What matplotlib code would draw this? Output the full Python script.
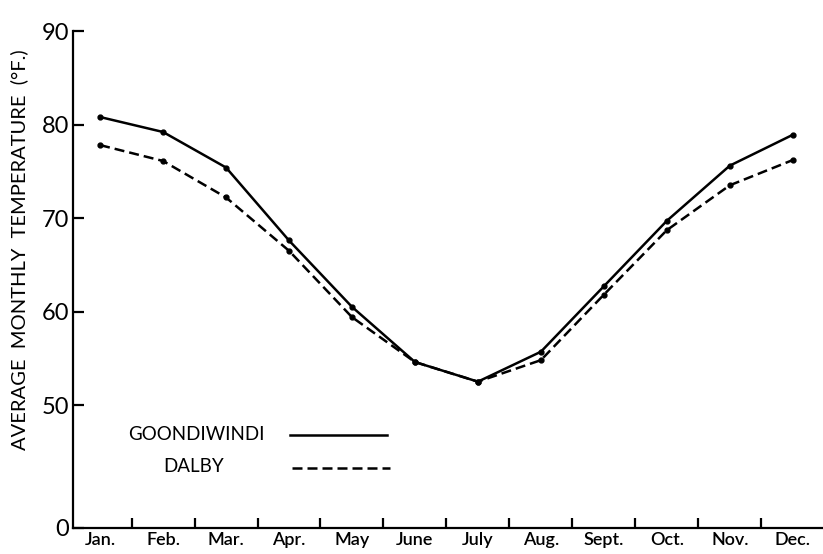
import numpy as np
import matplotlib
matplotlib.use("Agg")
from matplotlib import pyplot as plt
from matplotlib.lines import Line2D

months = ["Jan.", "Feb.", "Mar.", "Apr.", "May", "June",
          "July", "Aug.", "Sept.", "Oct.", "Nov.", "Dec."]
goondiwindi = [80.8, 79.2, 75.4, 67.6, 60.5, 54.6, 52.5, 55.7, 62.7, 69.7, 75.6, 78.9]
dalby = [77.8, 76.1, 72.2, 66.5, 59.4, 54.6, 52.5, 54.8, 61.8, 68.7, 73.5, 76.2]

# broken scale: the "0" sits at the axis, well below 50
y_zero_pos = 36.85
y_ticks = [y_zero_pos, 50, 60, 70, 80, 90]
y_tick_labels = ["0", "50", "60", "70", "80", "90"]

plt.rcParams['font.family'] = ['Lato', 'DejaVu Sans']

fig = plt.figure(figsize=(8.23, 5.54), dpi=100)
ax = fig.add_axes([73 / 823, 1 - 528 / 554, 1 - 73 / 823, (528 - 31) / 554])

x = np.arange(len(months))
ax.plot(x, goondiwindi, color='black', lw=1.8, marker='o', ms=3.5)
ax.plot(x, dalby, color='black', lw=1.8, ls=(0, (4, 2)), marker='o', ms=3.5)

ax.set_xlim(-0.43, 11.48)
ax.set_ylim(y_zero_pos, 90)

for s in ['top', 'right']:
    ax.spines[s].set_visible(False)
for s in ['left', 'bottom']:
    ax.spines[s].set_linewidth(1.6)

ax.set_yticks(y_ticks)
ax.set_yticklabels(y_tick_labels, fontsize=17)
ax.tick_params(axis='y', direction='in', length=8, width=1.6, pad=3)

# month ticks sit between months, labels centred on months
ax.set_xticks(x[:-1] + 0.5)
ax.set_xticklabels([])
ax.set_xticks(x, minor=True)
ax.set_xticklabels(months, minor=True, fontsize=13, fontweight='semibold')
ax.tick_params(axis='x', which='major', direction='in', length=7, width=1.6)
ax.tick_params(axis='x', which='minor', length=0, pad=3)

fig.text(19 / 823, 1 - 250 / 554, "AVERAGE  MONTHLY  TEMPERATURE  (°F.)",
         rotation=90, ha='center', va='center', fontsize=14.5)

# hand-drawn legend
fig.text(196 / 823, 1 - 434 / 554, "GOONDIWINDI", ha='center', va='center', fontsize=13.5)
fig.text(194 / 823, 1 - 467 / 554, "DALBY", ha='center', va='center', fontsize=13.5)
fig.add_artist(Line2D([290 / 823, 387 / 823], [1 - 435 / 554] * 2, color='black', lw=1.8))
fig.add_artist(Line2D([292 / 823, 390 / 823], [1 - 468 / 554] * 2, color='black', lw=1.8,
                      ls=(0, (4, 2))))

fig.savefig("out.png", dpi=100)
